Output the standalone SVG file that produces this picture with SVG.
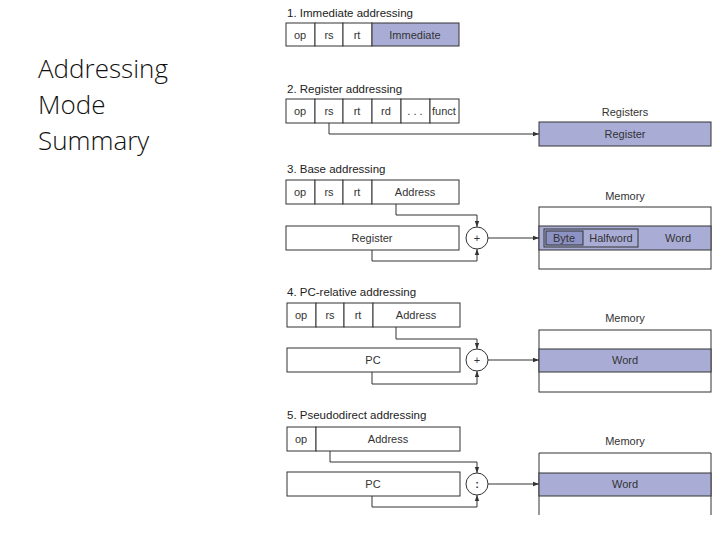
<svg xmlns="http://www.w3.org/2000/svg" width="720" height="540" viewBox="0 0 720 540">
<defs>
<style>
.b{fill:#fff;stroke:#333;stroke-width:1}
.f{fill:#a9add6;stroke:#333;stroke-width:1}
.t{font-family:"Liberation Sans",Arial,sans-serif;font-size:11px;fill:#333;text-anchor:middle}
.h{font-family:"Liberation Sans",Arial,sans-serif;font-size:11.5px;fill:#222}
.c{fill:none;stroke:#333;stroke-width:1}
.big{font-family:"Open Sans",Lato,sans-serif;font-size:26px;font-weight:300;fill:#111}
</style>
<marker id="a" viewBox="0 0 6 6" refX="6" refY="3" markerWidth="6" markerHeight="6" orient="auto"><path d="M0,0.8L6,3L0,5.2z" fill="#333"/></marker>
</defs>
<rect width="720" height="540" fill="#fff"/>
<g id="title"><text class="big" x="38" y="78">Addressing</text><text class="big" x="38" y="114">Mode</text><text class="big" x="38" y="150">Summary</text></g>

<g id="s1">
<text class="h" x="287" y="17">1.  Immediate addressing</text>
<rect class="b" x="286" y="23" width="29" height="23"/><rect class="b" x="315" y="23" width="28" height="23"/><rect class="b" x="343" y="23" width="29" height="23"/><rect class="f" x="372" y="23" width="87" height="23"/>
<text class="t" x="300" y="39">op</text><text class="t" x="329" y="39">rs</text><text class="t" x="357" y="39">rt</text><text class="t" x="415" y="39">Immediate</text>
</g>

<g id="s2">
<text class="h" x="287" y="93">2. Register addressing</text>
<rect class="b" x="286" y="99" width="29" height="24"/><rect class="b" x="315" y="99" width="28" height="24"/><rect class="b" x="343" y="99" width="29" height="24"/><rect class="b" x="372" y="99" width="29" height="24"/><rect class="b" x="401" y="99" width="29" height="24"/><rect class="b" x="430" y="99" width="29" height="24"/>
<text class="t" x="300" y="115">op</text><text class="t" x="329" y="115">rs</text><text class="t" x="357" y="115">rt</text><text class="t" x="386" y="115">rd</text><text class="t" x="415" y="115">. . .</text><text class="t" x="444" y="115">funct</text>
<text class="t" x="625" y="116">Registers</text>
<rect class="f" x="539" y="122" width="172" height="24"/><text class="t" x="625" y="138">Register</text>
</g>

<g id="s3">
<text class="h" x="287" y="173">3.  Base addressing</text>
<rect class="b" x="286" y="180" width="29" height="24"/><rect class="b" x="315" y="180" width="28" height="24"/><rect class="b" x="343" y="180" width="29" height="24"/><rect class="b" x="372" y="180" width="87" height="24"/>
<text class="t" x="300" y="196">op</text><text class="t" x="329" y="196">rs</text><text class="t" x="357" y="196">rt</text><text class="t" x="415" y="196">Address</text>
<rect class="b" x="286" y="226" width="173" height="24"/><text class="t" x="372" y="242">Register</text>
<circle class="b" cx="477" cy="238" r="11"/><text class="t" x="477" y="242">+</text>
<text class="t" x="625" y="200">Memory</text>
<rect class="b" x="539" y="207" width="172" height="62"/><rect class="f" x="539" y="226" width="172" height="24"/>
<rect class="f" x="544" y="229" width="94" height="18"/><rect fill="#8d92c4" stroke="#333" x="546" y="231" width="37" height="14"/>
<text class="t" x="564" y="242">Byte</text><text class="t" x="611" y="242">Halfword</text><text class="t" x="678" y="242">Word</text>
</g>

<g id="s4">
<text class="h" x="287" y="296">4.  PC-relative addressing</text>
<rect class="b" x="287" y="303" width="29" height="24"/><rect class="b" x="316" y="303" width="28" height="24"/><rect class="b" x="344" y="303" width="29" height="24"/><rect class="b" x="373" y="303" width="87" height="24"/>
<text class="t" x="301" y="319">op</text><text class="t" x="330" y="319">rs</text><text class="t" x="358" y="319">rt</text><text class="t" x="416" y="319">Address</text>
<rect class="b" x="287" y="348" width="173" height="24"/><text class="t" x="373" y="364">PC</text>
<circle class="b" cx="477" cy="360" r="11"/><text class="t" x="477" y="364">+</text>
<text class="t" x="625" y="322">Memory</text>
<rect class="b" x="539" y="330" width="172" height="62"/><rect class="f" x="539" y="349" width="172" height="23"/><text class="t" x="625" y="364">Word</text>
</g>

<g id="s5">
<text class="h" x="287" y="419">5.  Pseudodirect addressing</text>
<rect class="b" x="287" y="427" width="29" height="24"/><rect class="b" x="316" y="427" width="144" height="24"/>
<text class="t" x="301" y="443">op</text><text class="t" x="388" y="443">Address</text>
<rect class="b" x="287" y="472" width="173" height="24"/><text class="t" x="373" y="488">PC</text>
<circle class="b" cx="477" cy="484" r="11"/><text class="t" x="477" y="488" font-weight="bold">:</text>
<text class="t" x="625" y="445">Memory</text>
<path class="c" d="M539,515V453H711V515"/><rect class="f" x="539" y="473" width="172" height="23"/><text class="t" x="625" y="488">Word</text>
</g>

<g id="connectors">
<path class="c" d="M329,123V134H539" marker-end="url(#a)"/>
<path class="c" d="M396,204V215H477V227" marker-end="url(#a)"/>
<path class="c" d="M372,250V261H477V249" marker-end="url(#a)"/>
<path class="c" d="M488,238H539" marker-end="url(#a)"/>
<path class="c" d="M396,327V339H477V349" marker-end="url(#a)"/>
<path class="c" d="M372,372V384H477V371" marker-end="url(#a)"/>
<path class="c" d="M488,360H539" marker-end="url(#a)"/>
<path class="c" d="M330,451V462H477V473" marker-end="url(#a)"/>
<path class="c" d="M372,496V507H477V495" marker-end="url(#a)"/>
<path class="c" d="M488,484H539" marker-end="url(#a)"/>
</g>
</svg>
